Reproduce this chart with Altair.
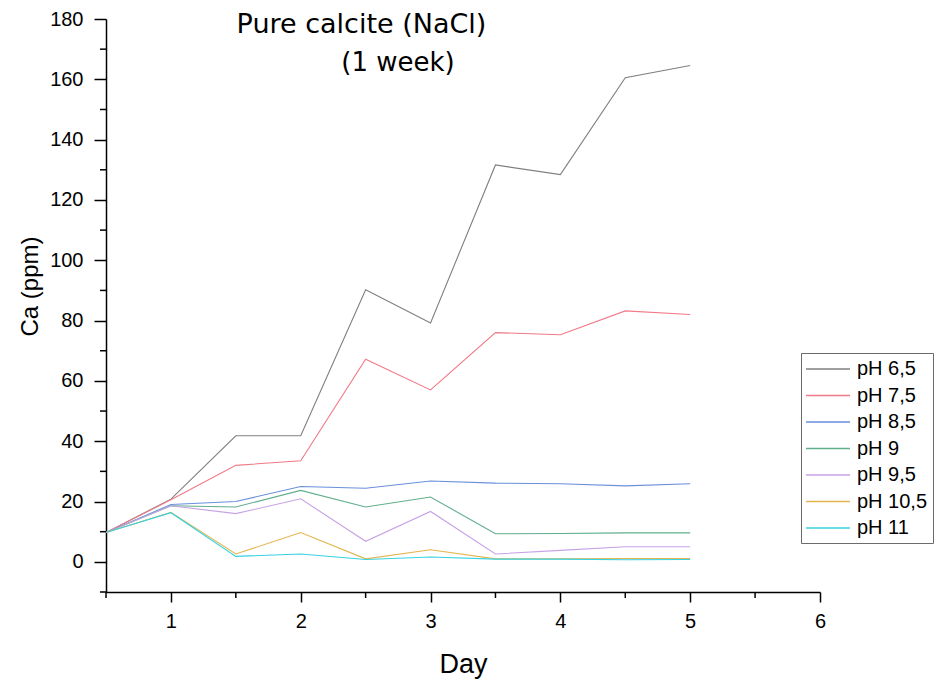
import altair as alt
import pandas as pd

days = [0.5, 1, 1.5, 2, 2.5, 3, 3.5, 4, 4.5, 5]
series_names = ["pH 6,5", "pH 7,5", "pH 8,5", "pH 9", "pH 9,5", "pH 10,5", "pH 11"]
ph_6_5 = [9.7, 20.8, 41.8, 41.8, 90.2, 79.2, 131.6, 128.4, 160.5, 164.6]
ph_7_5 = [9.7, 20.6, 32.0, 33.5, 67.2, 57.0, 76.0, 75.3, 83.2, 82.0]
ph_8_5 = [9.7, 19.0, 20.0, 25.0, 24.4, 26.8, 26.1, 25.9, 25.2, 25.9]
ph_9 = [9.7, 18.6, 18.2, 23.7, 18.2, 21.5, 9.3, 9.4, 9.6, 9.6]
ph_9_5 = [9.7, 18.6, 16.0, 20.9, 6.8, 16.7, 2.6, 3.8, 5.0, 5.0]
ph_10_5 = [9.7, 16.4, 2.6, 9.7, 1.0, 4.0, 1.0, 1.0, 1.1, 1.1]
ph_11 = [9.7, 16.3, 1.8, 2.6, 0.8, 1.6, 0.9, 0.9, 0.7, 0.8]
colors = ["#7f7f7f", "#f07a86", "#6a8fdc", "#5fae8c", "#c7a2e6", "#e3b54e", "#38d2e2"]

x_major = [1, 2, 3, 4, 5, 6]
x_minor_vals = [0.5, 1.5, 2.5, 3.5, 4.5, 5.5]
y_major = [0, 20, 40, 60, 80, 100, 120, 140, 160, 180]
y_minor_vals = [-10, 10, 30, 50, 70, 90, 110, 130, 150, 170]

all_series = [ph_6_5, ph_7_5, ph_8_5, ph_9, ph_9_5, ph_10_5, ph_11]
rows = []
for name, vals in zip(series_names, all_series):
    for d, v in zip(days, vals):
        rows.append({"Day": d, "Ca": v, "Series": name})
df = pd.DataFrame(rows)

FONT = "Liberation Sans"
xscale = alt.Scale(domain=[0.5, 6], nice=False, zero=False)
yscale = alt.Scale(domain=[-10, 180], nice=False, zero=False)

lines = alt.Chart(df).mark_line(strokeWidth=1.1, clip=True).encode(
    x=alt.X("Day:Q", scale=xscale,
            axis=alt.Axis(title="Day", values=x_major, grid=False, format="d",
                          tickSize=10, tickWidth=1.5, domainWidth=1.5, domainColor="black",
                          tickColor="black", labelFontSize=20, labelColor="black",
                          labelFont=FONT, titleFont=FONT, titleFontSize=27,
                          titleFontWeight="normal", titleColor="black",
                          labelPadding=9, titleX=357, titleY=80, titleAlign="center",
                          titleBaseline="alphabetic", labelFlush=False)),
    y=alt.Y("Ca:Q", scale=yscale,
            axis=alt.Axis(title="Ca (ppm)", values=y_major, format="d",
                          grid=False, tickSize=12, tickWidth=1.5, domainWidth=1.5,
                          domainColor="black", tickColor="black", labelFontSize=20,
                          labelColor="black", labelFont=FONT, titleFont=FONT,
                          titleFontSize=24, titleFontWeight="normal", titleColor="black",
                          labelPadding=11, titleX=-76, titleY=267, titleAlign="center",
                          titleBaseline="middle", titleAngle=270, labelFlush=False)),
    color=alt.Color("Series:N", sort=series_names,
                    scale=alt.Scale(domain=series_names, range=colors),
                    legend=alt.Legend(title=None, orient="none", legendX=695, legendY=334,
                                      symbolType="M-2.2,0H2.2", symbolSize=400,
                                      symbolStrokeWidth=1.4, symbolFillColor="transparent",
                                      labelFont=FONT, labelFontSize=20, labelColor="black",
                                      strokeColor="#6b6b6b", padding=5, rowPadding=5.5,
                                      labelOffset=18, symbolOffset=11)),
)

x_minor = alt.Chart(pd.DataFrame({"v": x_minor_vals})).mark_rule(color="black", strokeWidth=1.5).encode(
    x=alt.X("v:Q", scale=xscale, axis=None), y=alt.value(573), y2=alt.value(579))
y_minor = alt.Chart(pd.DataFrame({"v": y_minor_vals})).mark_rule(color="black", strokeWidth=1.5).encode(
    y=alt.Y("v:Q", scale=yscale, axis=None), x=alt.value(0), x2=alt.value(-6))

title1 = alt.Chart(pd.DataFrame({"t": ["Pure calcite (NaCl)"]})).mark_text(
    font="DejaVu Sans", fontSize=27, color="black", align="center", baseline="alphabetic").encode(
    text="t:N", x=alt.value(255.5), y=alt.value(14))
title2 = alt.Chart(pd.DataFrame({"t": ["(1 week)"]})).mark_text(
    font="DejaVu Sans", fontSize=26, color="black", align="center", baseline="alphabetic").encode(
    text="t:N", x=alt.value(292), y=alt.value(52))

chart = alt.layer(lines, x_minor, y_minor, title1, title2).resolve_axis(
    x="independent", y="independent"
).properties(
    width=714, height=573,
    background="white",
    autosize=alt.AutoSizeParams(type="none"),
    padding={"left": 106, "top": 19, "right": 121, "bottom": 96},
).configure_view(stroke=None)

chart.save("out.html", embed_options={"renderer": "svg", "actions": False})
